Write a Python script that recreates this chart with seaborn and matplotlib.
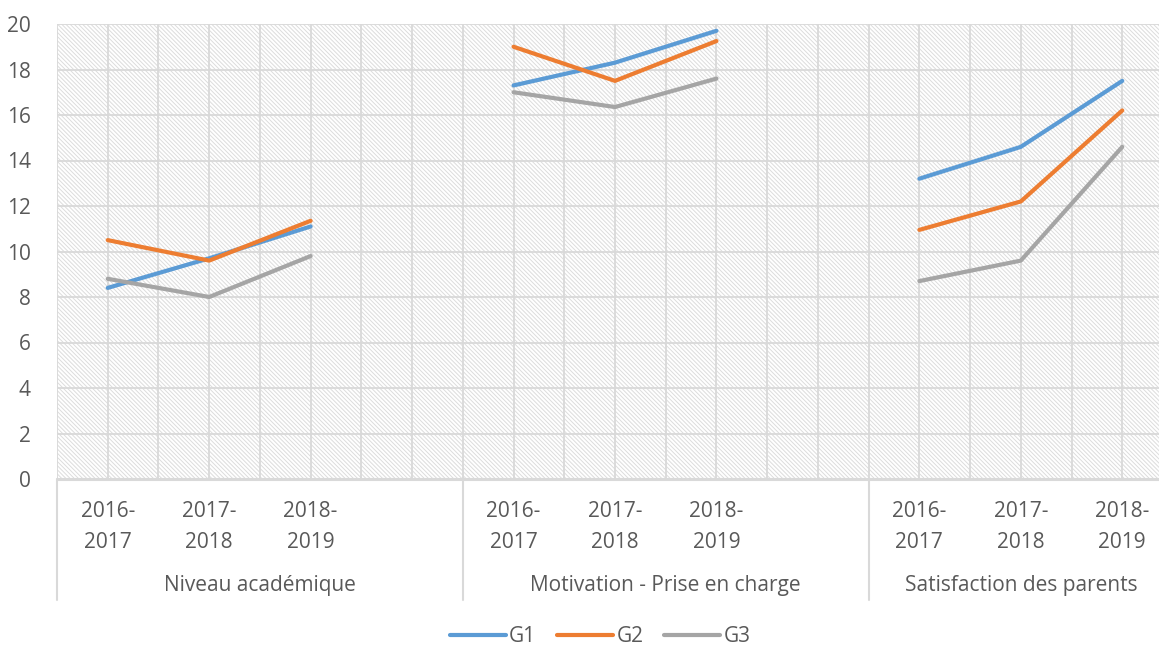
import matplotlib
matplotlib.use("Agg")
import matplotlib.pyplot as plt
from matplotlib.patches import Rectangle
import seaborn as sns
import pandas as pd
import numpy as np

# ---- data ----
groups = ["Niveau académique", "Motivation - Prise en charge", "Satisfaction des parents"]
years = ["2016-2017", "2017-2018", "2018-2019"]
series = ["G1", "G2", "G3"]
g1 = [8.4, 9.7, 11.1, 17.3, 18.3, 19.7, 13.2, 14.6, 17.5]
g2 = [10.5, 9.6, 11.35, 19.0, 17.5, 19.25, 10.95, 12.2, 16.2]
g3 = [8.8, 8.0, 9.8, 17.0, 16.35, 17.6, 8.7, 9.6, 14.6]
colors = ["#5B9BD5", "#ED7D31", "#A5A5A5"]

sns.set_theme(style="white")
plt.rcParams["font.family"] = ["Open Sans", "DejaVu Sans"]
plt.rcParams["hatch.color"] = "#dcdcdc"
plt.rcParams["hatch.linewidth"] = 0.7

txt = "#595959"
grid_c = "#d9d9d9"
fs = 15

rows = []
for s, vals in zip(series, [g1, g2, g3]):
    for gi, gname in enumerate(groups):
        for yi, yname in enumerate(years):
            rows.append({"series": s, "group": gname, "pos": gi * 4 + yi,
                         "value": vals[gi * 3 + yi]})
df = pd.DataFrame(rows)

W, H = 1159, 646
fig = plt.figure(figsize=(W / 100, H / 100), dpi=100)
ax = fig.add_axes([57 / W, 167 / H, 1116 / W, 455 / H])

# hatched background
ax.add_patch(Rectangle((0, 0), 1, 1, transform=ax.transAxes, facecolor="white",
                       edgecolor="#dcdcdc", lw=0, hatch="\\" * 8, zorder=0))

sns.lineplot(data=df, x="pos", y="value", hue="series", units="group",
             estimator=None, palette=colors, linewidth=3.0, ax=ax, zorder=5,
             solid_capstyle="round")

ax.set_xlim(-0.5, 10.5)
ax.set_ylim(0, 20)
ax.set_yticks(np.arange(0, 21, 2))
ax.set_yticklabels([str(v) for v in range(0, 21, 2)], fontsize=fs, color=txt)
ax.tick_params(axis="y", length=0, pad=19)

# grid
for yv in range(2, 21, 2):
    ax.axhline(yv, color=grid_c, lw=1.3, zorder=1)
for xv in np.arange(-0.5, 10.6, 0.5):
    ax.axvline(xv, color=grid_c, lw=1.3, zorder=1)
for sp in ax.spines.values():
    sp.set_visible(False)
ax.axhline(0, color=grid_c, lw=2.2, zorder=2, clip_on=False)

# category axis
tick_pos = [gi * 4 + yi for gi in range(len(groups)) for yi in range(len(years))]
tick_lab = [y.replace("-", "-\n") for gi in range(len(groups)) for y in years]
ax.set_xticks(tick_pos)
ax.set_xticklabels(tick_lab, fontsize=fs, color=txt, linespacing=1.6)
ax.tick_params(axis="x", length=0, pad=16)
ax.set_xlabel("")
ax.set_ylabel("")

trans = ax.get_xaxis_transform()
sep_bottom = -(600 - 479) / 455
for gi, gname in enumerate(groups):
    ngrp = len(years) + (1 if gi < len(groups) - 1 else 0)
    ax.plot([gi * 4 - 0.5] * 2, [0, sep_bottom], transform=trans, color=grid_c,
            lw=1.5, clip_on=False)
    ax.text(gi * 4 - 0.5 + ngrp / 2, -(586 - 479) / 455, gname, transform=trans,
            ha="center", va="center", fontsize=fs, color=txt)
ax.plot([10.5] * 2, [0, sep_bottom], transform=trans, color=grid_c, lw=1.5,
        clip_on=False)

handles, labels = ax.get_legend_handles_labels()
if ax.get_legend() is not None:
    ax.get_legend().remove()
leg = fig.legend(handles, labels, loc="center", bbox_to_anchor=(600 / W, 1 - 637 / H),
                 ncol=3, frameon=False, fontsize=fs, handlelength=2.7,
                 handletextpad=0.15, columnspacing=1.0)
for t in leg.get_texts():
    t.set_color(txt)
for h in leg.legend_handles:
    h.set_linewidth(3.0)

fig.savefig("out.png", dpi=100)
